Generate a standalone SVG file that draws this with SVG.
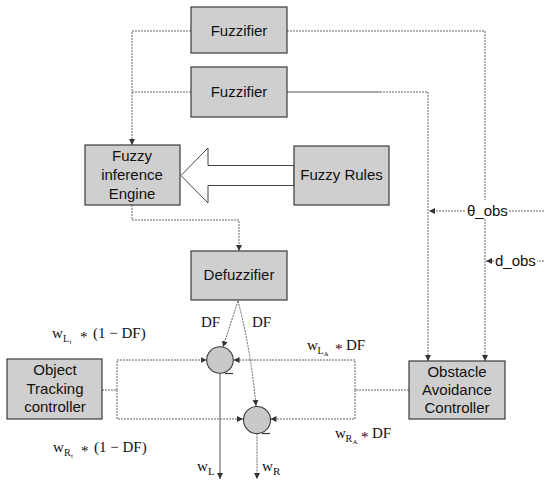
<svg xmlns="http://www.w3.org/2000/svg" width="544" height="482" viewBox="0 0 544 482">
  <style>
    .box { fill: #cfcfcf; stroke: #3a3a3a; stroke-width: 1.2; }
    .sum { fill: #c9c9c9; stroke: #3a3a3a; stroke-width: 1.1; }
    .lbl { font-family: "Liberation Sans", Arial, sans-serif; font-size: 15px; fill: #111; text-anchor: middle; }
    .sig { font-family: "Liberation Sans", Arial, sans-serif; font-size: 15px; fill: #111; }
    .math { font-family: "Liberation Serif", "Times New Roman", serif; font-size: 15px; fill: #111; }
    .wire { fill: none; stroke: #666; stroke-width: 1; stroke-dasharray: 2 1; }
    .solid { fill: none; stroke: #555; stroke-width: 1; }
  </style>
  <defs>
    <marker id="arrow" markerUnits="userSpaceOnUse" markerWidth="7" markerHeight="7" refX="6" refY="3" orient="auto">
      <path d="M0,0 L6,3 L0,6 z" fill="#333"/>
    </marker>
  </defs>

  <rect width="544" height="482" fill="#ffffff"/>

  <!-- connectors -->
  <g id="connectors">
    <!-- fuzzifiers to inference engine -->
    <path class="wire" d="M191,31 H132 V145" marker-end="url(#arrow)"/>
    <path class="wire" d="M191,92 H132"/>
    <!-- fuzzifiers to obstacle avoidance -->
    <path class="wire" d="M287,31 H485 V200"/>
    <path class="wire" d="M485,219 V361" marker-end="url(#arrow)"/>
    <path class="solid" d="M287,92 H380"/>
    <path class="wire" d="M380,92 H428 V361" marker-end="url(#arrow)"/>
    <!-- obstacle inputs -->
    <path class="wire" d="M544,211 H509"/>
    <path class="wire" d="M465,211 H429" marker-end="url(#arrow)"/>
    <path class="wire" d="M544,261 H537"/>
    <path class="wire" d="M494,261 H486" marker-end="url(#arrow)"/>
    <!-- inference engine to defuzzifier -->
    <path class="wire" d="M132,205 V220 H239 V251" marker-end="url(#arrow)"/>
    <!-- DF to summing junctions -->
    <path class="wire" d="M238,301 L223,347" marker-end="url(#arrow)"/>
    <path class="wire" d="M238,301 Q251,350 256,406" marker-end="url(#arrow)"/>
    <!-- object tracking controller to junctions -->
    <path class="wire" d="M102,390 H117"/>
    <path class="wire" d="M117,390 V360 H206.5" marker-end="url(#arrow)"/>
    <path class="wire" d="M117,390 V419 H243" marker-end="url(#arrow)"/>
    <!-- obstacle avoidance controller to junctions -->
    <path class="wire" d="M409,390 H355"/>
    <path class="wire" d="M355,390 V360 H233.5" marker-end="url(#arrow)"/>
    <path class="wire" d="M355,390 V419 H270.5" marker-end="url(#arrow)"/>
    <!-- wheel outputs -->
    <path class="solid" d="M220,373.5 V479" marker-end="url(#arrow)"/>
    <path class="wire" d="M257,433.5 V479" marker-end="url(#arrow)"/>
    <!-- rules feed the engine -->
    <polygon points="294,165.5 208,165.5 208,148 181,175.5 208,203 208,185.5 294,185.5" fill="#ffffff" stroke="#444" stroke-width="1"/>
  </g>

  <!-- nodes -->
  <g id="fuzzifier-1">
    <rect class="box" x="191" y="7" width="96" height="46"/>
    <text class="lbl" x="239" y="36">Fuzzifier</text>
  </g>
  <g id="fuzzifier-2">
    <rect class="box" x="191" y="67" width="96" height="50"/>
    <text class="lbl" x="239" y="97">Fuzzifier</text>
  </g>
  <g id="inference-engine">
    <rect class="box" x="85" y="145" width="95" height="60"/>
    <text class="lbl" x="132" y="161">Fuzzy</text>
    <text class="lbl" x="132" y="180">inference</text>
    <text class="lbl" x="132" y="199">Engine</text>
  </g>
  <g id="fuzzy-rules">
    <rect class="box" x="294" y="146" width="95" height="59"/>
    <text class="lbl" x="341.5" y="180">Fuzzy Rules</text>
  </g>
  <g id="defuzzifier">
    <rect class="box" x="191" y="251" width="96" height="49"/>
    <text class="lbl" x="239" y="280">Defuzzifier</text>
  </g>
  <g id="object-tracking">
    <rect class="box" x="7" y="359" width="95" height="60"/>
    <text class="lbl" x="55" y="375">Object</text>
    <text class="lbl" x="55" y="394">Tracking</text>
    <text class="lbl" x="55" y="412">controller</text>
  </g>
  <g id="obstacle-avoidance">
    <rect class="box" x="409" y="361" width="96" height="58"/>
    <text class="lbl" x="457" y="377">Obstacle</text>
    <text class="lbl" x="457" y="395">Avoidance</text>
    <text class="lbl" x="457" y="413">Controller</text>
  </g>
  <g id="sum-left">
    <circle class="sum" cx="220" cy="360" r="13.3"/>
    <path d="M225,373.5 H233" stroke="#333" stroke-width="1.2"/>
  </g>
  <g id="sum-right">
    <circle class="sum" cx="257" cy="420" r="13.5"/>
    <path d="M262,433.5 H270" stroke="#333" stroke-width="1.2"/>
  </g>

  <!-- signal labels -->
  <g id="labels">
    <text class="sig" x="467" y="216">θ_obs</text>
    <text class="sig" x="495" y="266">d_obs</text>

    <text class="math" x="201" y="327" font-size="14">DF</text>
    <text class="math" x="252" y="327" font-size="14">DF</text>

    <text class="math"><tspan x="52" y="338">w</tspan><tspan x="63" y="342" font-size="10">L</tspan><tspan x="69.5" y="344" font-size="7">t</tspan><tspan x="80" y="342">*</tspan><tspan x="93" y="338">(1 − DF)</tspan></text>
    <text class="math"><tspan x="53" y="452">w</tspan><tspan x="64" y="456" font-size="10">R</tspan><tspan x="71" y="458" font-size="7">t</tspan><tspan x="81" y="456">*</tspan><tspan x="94" y="452">(1 − DF)</tspan></text>

    <text class="math"><tspan x="307" y="350">w</tspan><tspan x="317.5" y="354" font-size="10">L</tspan><tspan x="323.5" y="356" font-size="7">A</tspan><tspan x="335" y="354">*</tspan><tspan x="346" y="350">DF</tspan></text>
    <text class="math"><tspan x="335" y="438">w</tspan><tspan x="345.5" y="442" font-size="10">R</tspan><tspan x="352.5" y="444" font-size="7">A</tspan><tspan x="361" y="442">*</tspan><tspan x="372" y="438">DF</tspan></text>

    <text class="math"><tspan x="197" y="471">w</tspan><tspan x="208" y="475" font-size="11">L</tspan></text>
    <text class="math"><tspan x="262" y="471">w</tspan><tspan x="273" y="475" font-size="11">R</tspan></text>
  </g>
</svg>
